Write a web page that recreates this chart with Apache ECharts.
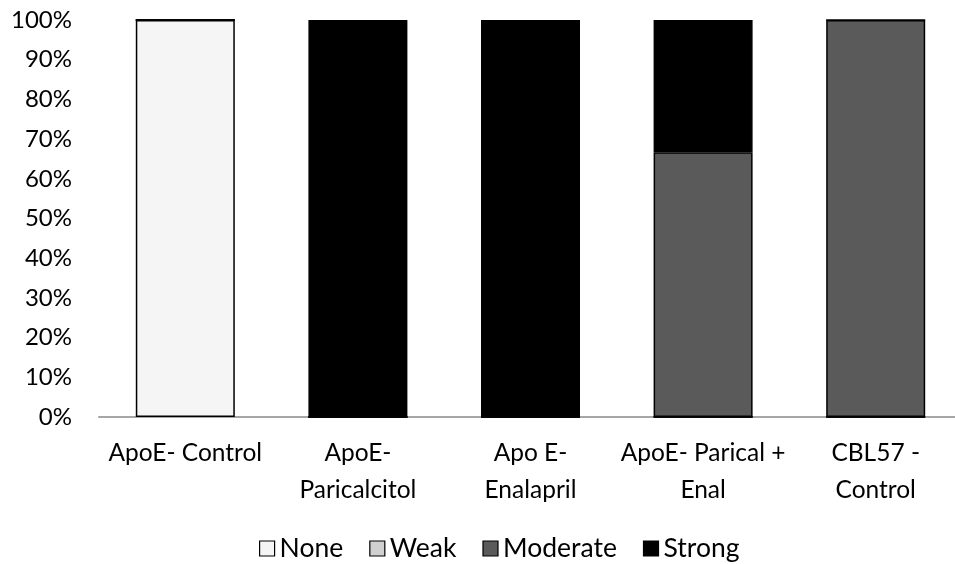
<!DOCTYPE html>
<html><head><meta charset="utf-8">
<script src="https://cdn.jsdelivr.net/npm/echarts@6/dist/echarts.min.js"></script>
<style>html,body{margin:0;padding:0;background:#fff;overflow:hidden}#c{width:975px;height:564px}</style>
</head><body><div id="c"></div>
<script>
const categories = ['ApoE- Control', 'ApoE-\nParicalcitol', 'Apo E-\nEnalapril', 'ApoE- Parical +\nEnal', 'CBL57 -\nControl'];
const noneVals = [100, 0, 0, 0, 0];
const weakVals = [0, 0, 0, 0, 0];
const moderateVals = [0, 0, 0, 66.7, 100];
const strongVals = [0, 100, 100, 33.3, 0];
const yTicks = [0, 10, 20, 30, 40, 50, 60, 70, 80, 90, 100];

const font = 'Lato, "Open Sans", sans-serif';
const chart = echarts.init(document.getElementById('c'));
function s(name, data, color) {
  return {
    name, type: 'bar', stack: 'all', data, barWidth: 99,
    itemStyle: { color, borderColor: '#000', borderWidth: 1.5 },
    emphasis: { disabled: true }
  };
}
chart.setOption({
  animation: false,
  grid: { left: 99, top: 20, width: 863, height: 397, containLabel: false },
  legend: {
    left: 254, top: 530, itemWidth: 15, itemHeight: 15, itemGap: 26,
    icon: 'rect',
    textStyle: { fontFamily: font, fontSize: 26.5, color: '#000' },
    itemStyle: { borderColor: '#000', borderWidth: 1.2 },
    data: ['None', 'Weak', 'Moderate', 'Strong']
  },
  xAxis: {
    type: 'category', data: categories,
    axisLine: { lineStyle: { color: '#a6a6a6', width: 2 } },
    axisTick: { show: false },
    axisLabel: { fontFamily: font, fontSize: 24.5, color: '#000', margin: 18, lineHeight: 37, interval: 0 }
  },
  yAxis: {
    type: 'value', min: yTicks[0], max: yTicks[yTicks.length - 1], interval: 10,
    axisLine: { show: false }, axisTick: { show: false }, splitLine: { show: false },
    axisLabel: { fontFamily: font, fontSize: 24, color: '#000', margin: 27, formatter: v => v + '%' }
  },
  series: [
    s('None', noneVals, '#f5f5f5'),
    s('Weak', weakVals, '#d0d0d0'),
    s('Moderate', moderateVals, '#5a5a5a'),
    s('Strong', strongVals, '#000000')
  ]
});
</script></body></html>
